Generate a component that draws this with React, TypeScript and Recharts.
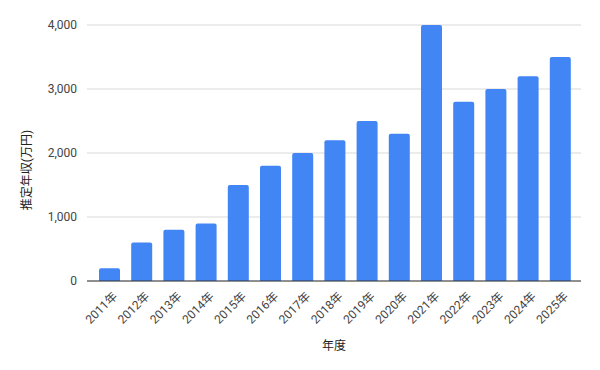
import React from 'react';
import { BarChart, Bar, XAxis, YAxis, CartesianGrid, Label } from 'recharts';

const years = ['2011年', '2012年', '2013年', '2014年', '2015年', '2016年', '2017年', '2018年', '2019年', '2020年', '2021年', '2022年', '2023年', '2024年', '2025年'];
const income = [200, 600, 800, 900, 1500, 1800, 2000, 2200, 2500, 2300, 4000, 2800, 3000, 3200, 3500];
const yTicks = [0, 1000, 2000, 3000, 4000];

const data = years.map((year, i) => ({ year, income: income[i] }));

const font = 'Roboto, "Noto Sans CJK JP", sans-serif';

const YTitle = ({ viewBox }: any) => {
  const x = viewBox.x + 31;
  const y = viewBox.y + viewBox.height / 2 + 17;
  return (
    <text
      x={x}
      y={y}
      transform={`rotate(-90, ${x}, ${y})`}
      textAnchor="middle"
      fontSize={12}
      fill="#222"
      fontFamily={font}
    >
      推定年収(万円)
    </text>
  );
};

export default function App() {
  return (
    <div style={{ position: 'absolute', left: 0, top: 0, width: 600, height: 370, background: '#fff' }}>
      <BarChart width={600} height={370} data={data} margin={{ top: 25, right: 19, bottom: 0, left: 0 }}>
        <CartesianGrid vertical={false} stroke="#d9d9d9" />
        <XAxis
          dataKey="year"
          height={89}
          interval={0}
          padding={{ left: 6, right: 5 }}
          tickLine={false}
          axisLine={{ stroke: '#333' }}
          angle={-45}
          textAnchor="end"
          tick={{ fontSize: 12, fill: '#444', fontFamily: font, dx: 3 }}
          tickMargin={4}
        >
          <Label value="年度" position="insideBottom" offset={20} fontSize={12} fill="#222" fontFamily={font} />
        </XAxis>
        <YAxis
          width={87}
          domain={[0, 4000]}
          ticks={yTicks}
          tickLine={false}
          axisLine={false}
          tickFormatter={(v: number) => v.toLocaleString('en-US')}
          tick={{ fontSize: 12, fill: '#444', fontFamily: font }}
          tickMargin={4}
        >
          <Label content={<YTitle />} />
        </YAxis>
        <Bar dataKey="income" fill="#4285f4" barSize={21} radius={[2, 2, 0, 0]} isAnimationActive={false} />
      </BarChart>
    </div>
  );
}
